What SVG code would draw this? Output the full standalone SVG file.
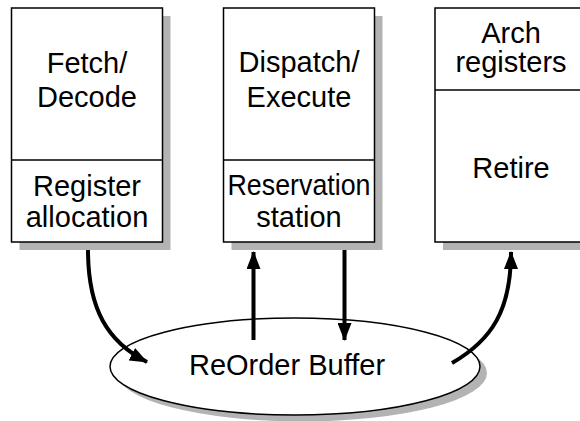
<svg xmlns="http://www.w3.org/2000/svg" width="580" height="421" viewBox="0 0 580 421">
<defs>
<style>
.shadow{fill:#b3b3b3;stroke:none}
.box{fill:#fff;stroke:#000;stroke-width:1.5}
.t{font-family:"Liberation Sans",Arial,sans-serif;font-size:29px;fill:#000;text-anchor:middle}
.conn{fill:none;stroke:#000;stroke-width:4}
</style>
<marker id="ah" viewBox="0 0 18 14" refX="17" refY="7" markerWidth="18" markerHeight="14" markerUnits="userSpaceOnUse" orient="auto">
<path d="M0,0 L18,7 L0,14 Z" fill="#000"/>
</marker>
</defs>
<rect width="580" height="421" fill="#fff"/>
<g id="fetch">
<rect class="shadow" x="19.5" y="16" width="151" height="234"/>
<rect class="box" x="11.5" y="8" width="151" height="234"/>
<line x1="11.5" y1="160" x2="162.5" y2="160" stroke="#000" stroke-width="1.5"/>
<text class="t" x="87" y="73">Fetch/</text>
<text class="t" x="87" y="107">Decode</text>
<text class="t" x="87" y="196">Register</text>
<text class="t" x="87" y="227">allocation</text>
</g>
<g id="dispatch">
<rect class="shadow" x="231.5" y="16" width="151" height="234"/>
<rect class="box" x="223.5" y="8" width="151" height="234"/>
<line x1="223.5" y1="160" x2="374.5" y2="160" stroke="#000" stroke-width="1.5"/>
<text class="t" x="299" y="72">Dispatch/</text>
<text class="t" x="299" y="107">Execute</text>
<text class="t" x="299" y="195" textLength="143" lengthAdjust="spacingAndGlyphs">Reservation</text>
<text class="t" x="299" y="227">station</text>
</g>
<g id="retire">
<rect class="shadow" x="443" y="16" width="151" height="234"/>
<rect class="box" x="435" y="8" width="151" height="234"/>
<line x1="435" y1="90" x2="586" y2="90" stroke="#000" stroke-width="1.5"/>
<text class="t" x="511" y="43">Arch</text>
<text class="t" x="511" y="72">registers</text>
<text class="t" x="511" y="178">Retire</text>
</g>
<g id="rob">
<ellipse class="shadow" cx="302" cy="373" rx="185" ry="48.5"/>
<ellipse class="box" cx="295" cy="366.5" rx="185" ry="48.5"/>
<text class="t" x="287" y="375">ReOrder Buffer</text>
</g>
<g id="connectors">
<path class="conn" d="M88,250 C88,310 108,342 147,362" marker-end="url(#ah)"/>
<path class="conn" d="M253.5,340 L253.5,252" marker-end="url(#ah)"/>
<path class="conn" d="M344.5,250 L344.5,340" marker-end="url(#ah)"/>
<path class="conn" d="M452,363 C492,340 511,310 511,252" marker-end="url(#ah)"/>
</g>
</svg>
